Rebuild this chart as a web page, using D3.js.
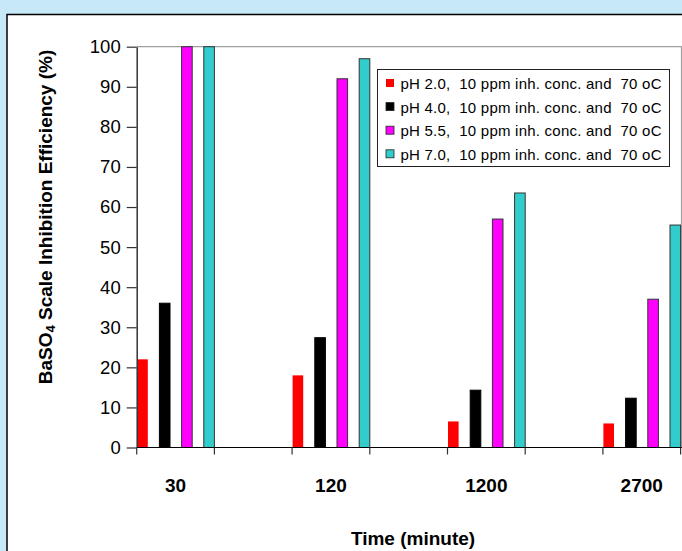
<!DOCTYPE html>
<html>
<head>
<meta charset="utf-8">
<script src="https://cdn.jsdelivr.net/npm/d3@7"></script>
<style>
  html, body { margin: 0; padding: 0; background: #c6e8f7; }
  svg { display: block; font-family: "Liberation Sans", Arial, sans-serif; }
</style>
</head>
<body>
<svg id="chart"></svg>
<script>
var w = 682, h = 551;

// data
var times = ["30", "120", "1200", "2700"];
var seriesNames = [
    "pH 2.0,  10 ppm inh. conc. and  70 oC",
    "pH 4.0,  10 ppm inh. conc. and  70 oC",
    "pH 5.5,  10 ppm inh. conc. and  70 oC",
    "pH 7.0,  10 ppm inh. conc. and  70 oC"
];
var ph20 = [22, 18, 6.5, 6];
var ph40 = [36, 27.4, 14.3, 12.3];
var ph55 = [100, 92, 57, 37];
var ph70 = [100, 97, 63.5, 55.5];
var yTicks = [0, 10, 20, 30, 40, 50, 60, 70, 80, 90, 100];

var fills = ["#ff0000", "#000000", "#ff00ff", "#33cccc"];
var strokes = ["none", "#000000", "#333333", "#333333"];
var allSeries = [ph20, ph40, ph55, ph70];

var svg = d3.select("#chart").attr("width", w).attr("height", h);

// white panel
svg.append("rect")
    .attr("x", 7).attr("y", 14.5)
    .attr("width", 700).attr("height", 600)
    .attr("fill", "#fff")
    .attr("stroke", "#000")
    .attr("stroke-width", 1.5);

// (don't call it "top": that is window.top)
var plotLeft = 136.7, plotTop = 46.7, plotBottom = 447.5;

var y = d3.scaleLinear().domain([0, 100]).range([plotBottom, plotTop]);
var x0 = d3.scaleBand().domain(times).range([plotLeft, plotLeft + 4 * 155.4]);
// bars sit in the left half of each category
var x1 = d3.scaleBand().domain(d3.range(4)).range([0, x0.bandwidth() / 2]).paddingInner(0.5).paddingOuter(0);

// plot area border (top and right)
svg.append("path")
    .attr("d", "M" + plotLeft + "," + plotTop + "H681.5V" + plotBottom)
    .attr("fill", "none")
    .attr("stroke", "#a0a0a0")
    .attr("stroke-width", 1.2);

// bars
var groups = svg.append("g").selectAll("g")
    .data(times)
    .enter().append("g")
    .attr("transform", function (d) { return "translate(" + x0(d) + ",0)"; });

groups.selectAll("rect")
    .data(function (d, i) { return allSeries.map(function (s, k) { return { k: k, v: s[i] }; }); })
    .enter().append("rect")
    .attr("x", function (d) { return x1(d.k) + 0.5; })
    .attr("y", function (d) { return y(d.v); })
    .attr("width", x1.bandwidth() - 0.5)
    .attr("height", function (d) { return y(0) - y(d.v); })
    .attr("fill", function (d) { return fills[d.k]; })
    .attr("stroke", function (d) { return strokes[d.k]; })
    .attr("stroke-width", 1);

// y axis
var yAxis = svg.append("g")
    .attr("transform", "translate(" + plotLeft + ",0)")
    .call(d3.axisLeft(y).tickValues(yTicks).tickSize(10).tickPadding(6).tickSizeOuter(0));
yAxis.select(".domain").attr("stroke", "#333").attr("stroke-width", 1.5);
yAxis.selectAll(".tick line").attr("stroke", "#333").attr("stroke-width", 1.2);
yAxis.selectAll(".tick text")
    .attr("font-family", "Liberation Sans, Arial, sans-serif")
    .attr("font-size", 18.5)
    .attr("fill", "#000");

// x axis line and ticks at every half category
svg.append("line")
    .attr("x1", plotLeft).attr("x2", w)
    .attr("y1", plotBottom).attr("y2", plotBottom)
    .attr("stroke", "#000").attr("stroke-width", 1.2);

var tickPos = [];
times.forEach(function (t) {
    tickPos.push(x0(t));
    tickPos.push(x0(t) + x0.bandwidth() / 2);
});
svg.append("g").selectAll("line")
    .data(tickPos)
    .enter().append("line")
    .attr("x1", function (d) { return d; })
    .attr("x2", function (d) { return d; })
    .attr("y1", plotBottom)
    .attr("y2", plotBottom + 7)
    .attr("stroke", "#333")
    .attr("stroke-width", 1.2);

svg.append("g").selectAll("text")
    .data(times)
    .enter().append("text")
    .attr("x", function (d) { return x0(d) + x0.bandwidth() / 4; })
    .attr("y", 492)
    .attr("text-anchor", "middle")
    .attr("font-size", 19)
    .attr("font-weight", "bold")
    .text(function (d) { return d; });

// axis titles
svg.append("text")
    .attr("x", 413)
    .attr("y", 545)
    .attr("text-anchor", "middle")
    .attr("font-size", 19)
    .attr("font-weight", "bold")
    .text("Time (minute)");

var yTitle = svg.append("text")
    .attr("transform", "translate(52,217) rotate(-90)")
    .attr("text-anchor", "middle")
    .attr("font-size", 19)
    .attr("font-weight", "bold");
yTitle.append("tspan").text("BaSO");
yTitle.append("tspan").attr("font-size", 13).attr("dy", 3).text("4");
yTitle.append("tspan").attr("dy", -3).text(" Scale Inhibition Efficiency (%)");

// legend
var legend = svg.append("g");
legend.append("rect")
    .attr("x", 377.5).attr("y", 69.5)
    .attr("width", 292).attr("height", 97)
    .attr("fill", "#fff")
    .attr("stroke", "#222")
    .attr("stroke-width", 1);

var items = legend.selectAll("g.item")
    .data(seriesNames)
    .enter().append("g")
    .attr("class", "item")
    .attr("transform", function (d, i) { return "translate(0," + (83.5 + i * 23.6) + ")"; });

items.append("rect")
    .attr("x", 386).attr("y", -4.5)
    .attr("width", 8).attr("height", 8)
    .attr("fill", function (d, i) { return fills[i]; })
    .attr("stroke", function (d, i) { return i === 0 ? "none" : "#222"; })
    .attr("stroke-width", 0.8);

items.append("text")
    .attr("x", 400.5)
    .attr("y", 5.5)
    .attr("font-size", 15)
    .attr("textLength", 261)
    .attr("lengthAdjust", "spacing")
    .style("white-space", "pre")
    .text(function (d) { return d; });
</script>
</body>
</html>
